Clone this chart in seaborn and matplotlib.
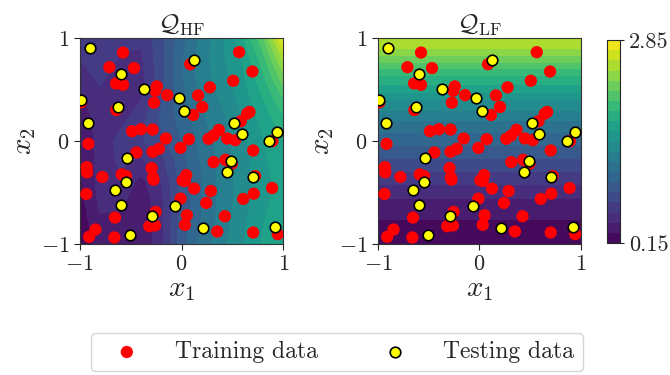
import numpy as np
import pandas as pd
import matplotlib
matplotlib.use("Agg")
import matplotlib.pyplot as plt
import seaborn as sns

# ---- grid on which the two fidelity surfaces are tabulated ----
grid_x1 = [-1.0, -0.8, -0.6, -0.4, -0.2, 0.0, 0.2, 0.4, 0.6, 0.8, 1.0]
grid_x2 = [1.0, 0.8, 0.6, 0.4, 0.2, 0.0, -0.2, -0.4, -0.6, -0.8, -1.0]

# high-fidelity response (rows follow grid_x2, columns follow grid_x1)
q_hf = [
    [0.61, 0.69, 0.61, 0.58, 0.78, 1.04, 1.28, 1.48, 1.74, 2.15, 2.77],
    [0.56, 0.66, 0.53, 0.53, 0.78, 1.07, 1.30, 1.47, 1.65, 1.98, 2.48],
    [0.47, 0.58, 0.47, 0.50, 0.78, 1.07, 1.30, 1.44, 1.60, 1.86, 2.24],
    [0.39, 0.50, 0.45, 0.55, 0.81, 1.04, 1.25, 1.38, 1.55, 1.76, 2.02],
    [0.34, 0.47, 0.52, 0.64, 0.85, 1.01, 1.20, 1.33, 1.49, 1.68, 1.86],
    [0.31, 0.47, 0.60, 0.67, 0.78, 0.96, 1.14, 1.30, 1.47, 1.63, 1.76],
    [0.29, 0.47, 0.58, 0.52, 0.64, 0.91, 1.11, 1.28, 1.44, 1.60, 1.74],
    [0.26, 0.47, 0.53, 0.37, 0.55, 0.88, 1.09, 1.28, 1.44, 1.57, 1.71],
    [0.23, 0.45, 0.45, 0.31, 0.52, 0.85, 1.09, 1.28, 1.44, 1.60, 1.71],
    [0.20, 0.39, 0.37, 0.29, 0.52, 0.88, 1.11, 1.30, 1.47, 1.63, 1.74],
    [0.18, 0.34, 0.31, 0.29, 0.52, 0.91, 1.14, 1.33, 1.49, 1.65, 1.76],
]

# low-fidelity response: varies along x2 only
lf_x2 = [1.0, 0.9, 0.8, 0.7, 0.6, 0.5, 0.4, 0.3, 0.2, 0.1, 0.0,
         -0.1, -0.2, -0.3, -0.4, -0.5, -0.6, -0.7, -0.8, -0.9, -1.0]
q_lf_profile = [2.58, 2.45, 2.26, 2.04, 1.85, 1.69, 1.50, 1.37, 1.23, 1.12, 1.01,
                0.91, 0.80, 0.69, 0.58, 0.47, 0.39, 0.34, 0.26, 0.20, 0.16]

# ---- sample locations ----
train_x1 = [-0.575, -0.709, -0.467, -0.644, -0.575, -0.242, -0.258, -0.141, -0.271, -0.641,
            -0.987, 0.085, 0.565, 0.696, 0.507, 0.278, 0.163, 0.203, 0.114, 0.644,
            0.667, 0.582, 0.366, 0.314, 0.265, 0.448, 0.526, 0.072, -0.154, -0.010,
            -0.487, -0.399, -0.284, -0.915, -0.444, -0.284, -0.222, -0.931, -0.928, -0.778,
            -0.588, -0.546, -0.294, -0.281, -0.275, 0.046, 0.010, 0.033, 0.124, 0.288,
            0.314, 0.431, 0.493, 0.703, 0.722, 0.709, 0.889, 0.605, 0.242, -0.010,
            -0.935, -0.654, -0.255, 0.052, 0.033, 0.425, -0.317, -0.261, -0.846, -0.908,
            -0.660, 0.350, 0.703, 0.944, 0.892]
train_x2 = [0.861, 0.719, 0.710, 0.561, 0.548, 0.532, 0.490, 0.448, 0.374, 0.303,
            0.377, 0.748, 0.865, 0.677, 0.587, 0.523, 0.445, 0.332, 0.255, 0.268,
            0.284, 0.194, 0.110, 0.055, 0.023, 0.026, 0.010, 0.019, 0.026, -0.065,
            0.097, 0.116, 0.113, -0.026, -0.110, -0.103, -0.074, -0.252, -0.303, -0.348,
            -0.323, -0.339, -0.261, -0.352, -0.374, -0.329, -0.381, -0.387, -0.461, -0.484,
            -0.203, -0.181, -0.219, -0.090, -0.339, -0.510, -0.455, -0.561, -0.600, -0.558,
            -0.513, -0.742, -0.687, -0.719, -0.813, -0.729, -0.826, -0.819, -0.858, -0.929,
            -0.935, -0.877, -0.887, -0.903, 0.000]

test_x1 = [-0.899, 0.124, -0.595, -0.366, -0.029, 0.023, -0.987, -0.621, -0.922, 0.516,
           0.592, 0.941, 0.863, -0.539, 0.484, 0.444, 0.706, -0.549, -0.650, -0.592,
           -0.065, -0.291, 0.209, -0.503, 0.922]
test_x2 = [0.910, 0.790, 0.652, 0.510, 0.416, 0.297, 0.397, 0.329, 0.177, 0.174,
           0.065, 0.094, -0.003, -0.168, -0.194, -0.297, -0.348, -0.394, -0.477, -0.623,
           -0.632, -0.729, -0.848, -0.910, -0.835]

panel_titles = [r"$\mathcal{Q}_{\rm HF}$", r"$\mathcal{Q}_{\rm LF}$"]
cbar_ticks = [0.15, 2.85]

# ---- style ----
sns.set_style("ticks")
plt.rcParams["font.family"] = ["cmr10", "DejaVu Serif"]
plt.rcParams["mathtext.fontset"] = "cm"
plt.rcParams["axes.formatter.use_mathtext"] = True
plt.rcParams["axes.unicode_minus"] = False

train = pd.DataFrame({"x1": train_x1, "x2": train_x2})
test = pd.DataFrame({"x1": test_x1, "x2": test_x2})

levels = np.linspace(cbar_ticks[0], cbar_ticks[1], 21)

fig = plt.figure(figsize=(6.7, 3.75), dpi=100)
ax_hf = fig.add_axes([0.119, 0.349, 0.304, 0.549])
ax_lf = fig.add_axes([0.564, 0.349, 0.303, 0.549])
cax = fig.add_axes([0.906, 0.352, 0.019, 0.541])

X1, X2 = np.meshgrid(grid_x1, grid_x2)
cs = ax_hf.contourf(X1, X2, np.array(q_hf), levels=levels, cmap="viridis",
                    vmin=levels[0], vmax=levels[-1])

L1, L2 = np.meshgrid([-1.0, 1.0], lf_x2)
lf_field = np.repeat(np.array(q_lf_profile)[:, None], 2, axis=1)
ax_lf.contourf(L1, L2, lf_field, levels=levels, cmap="viridis",
               vmin=levels[0], vmax=levels[-1])

for ax, title in zip([ax_hf, ax_lf], panel_titles):
    sns.scatterplot(data=train, x="x1", y="x2", ax=ax, color="red", s=78,
                    edgecolor="none", linewidth=0, label="Training data", zorder=3)
    sns.scatterplot(data=test, x="x1", y="x2", ax=ax, color="yellow", s=58,
                    edgecolor="black", linewidth=1.2, label="Testing data", zorder=4)
    ax.set_xlim(-1, 1)
    ax.set_ylim(-1, 1)
    ax.set_xticks([-1, 0, 1])
    ax.set_yticks([-1, 0, 1])
    ax.tick_params(labelsize=16, length=4, width=0.8)
    ax.set_xlabel(r"$x_1$", fontsize=21, labelpad=2)
    ax.set_ylabel(r"$x_2$", fontsize=21, labelpad=2)
    ax.set_title(title, fontsize=18, pad=4)
    for sp in ax.spines.values():
        sp.set_linewidth(0.8)
        sp.set_color("#333333")

handles, labels = ax_hf.get_legend_handles_labels()
ax_hf.get_legend().remove()
ax_lf.get_legend().remove()

cb = fig.colorbar(cs, cax=cax, ticks=cbar_ticks)
cb.ax.set_yticklabels([f"{t:.2f}" for t in cbar_ticks])
cb.ax.tick_params(labelsize=16, length=3)
cb.outline.set_linewidth(0.8)

fig.legend(handles, labels, loc="center", bbox_to_anchor=(0.503, 0.061),
           ncol=2, fontsize=17, frameon=True, handlelength=2.3,
           handletextpad=0.9, columnspacing=2.1, borderpad=0.35,
           edgecolor="#cccccc", fancybox=True)

fig.savefig("out.png", dpi=100)
